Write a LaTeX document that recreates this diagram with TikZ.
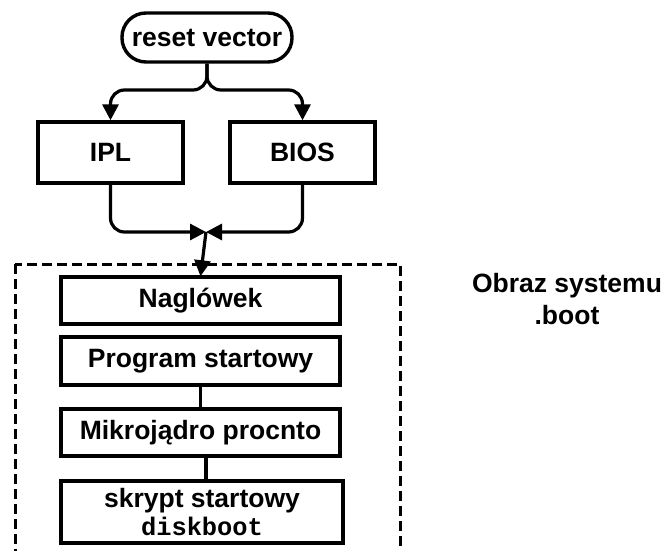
\documentclass[tikz,border=0pt]{standalone}
\usepackage{fontspec}
\setmainfont{Liberation Sans}
\newfontfamily\codefont{Liberation Mono}
\usetikzlibrary{arrows.meta,calc}
\tikzset{
  x=1pt, y=-1pt,
  every node/.style={font=\fontsize{26.5}{32}\selectfont\bfseries, inner sep=0pt},
  box/.style={draw, line width=3.4pt, minimum width=279pt, minimum height=47pt, align=center},
  conn/.style={line width=3.2pt},
  arr/.style={conn, -{Triangle[length=16pt,width=16pt]}},
  frame/.style={line width=3pt, dash pattern=on 10pt off 5pt},
}
\begin{document}
\begin{tikzpicture}
\useasboundingbox (0,0) rectangle (664,551);

% entry point and the two loaders
\node[draw, line width=3.4pt, rounded corners=24pt, minimum width=170pt, minimum height=49pt] (reset) at (207,37.5) {reset vector};
\node[box, minimum width=145pt, minimum height=61pt] (ipl)  at (110.5,152.5) {IPL};
\node[box, minimum width=145pt, minimum height=61pt] (bios) at (302.5,152.5) {BIOS};

% contents of the boot image
\draw[frame] (15,264) rectangle (400,580);
\node[box] (nag)  at (200.5,300.5) {Naglówek};
\node[box, minimum height=48pt] (prog) at (200.5,361) {Program startowy};
\node[box, minimum width=282pt, minimum height=62pt] (skrypt) at (202,512)
  {skrypt startowy\\[-4pt]{\codefont\fontsize{25.4}{30}\selectfont diskboot}};
\node[box] (mikro) at (200.5,432.5) {Mikrojądro procnto};

\node[align=center] (label) at (567,299) {Obraz systemu\\.boot};

% connectors
\coordinate (split) at (207,90);
\coordinate (merge) at (206,232);
\draw[arr, rounded corners=14pt] (reset.south) -- (split) -| (ipl.north);
\draw[arr, rounded corners=14pt] (reset.south) -- (split) -| (bios.north);
\draw[arr, rounded corners=14pt] (ipl.south) |- (merge);
\draw[arr, rounded corners=14pt] (bios.south) |- (merge);
\draw[arr] (merge) -- ([yshift=-1pt]nag.north);
\draw[conn] (prog.south) -- (mikro.north);
\draw[conn] ([xshift=5.5pt]mikro.south) -- ([xshift=5.5pt]mikro.south |- skrypt.north);
\end{tikzpicture}
\end{document}
